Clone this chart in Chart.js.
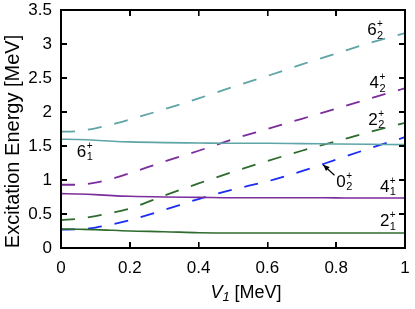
<!DOCTYPE html>
<html>
<head>
<meta charset="utf-8">
<script src="https://cdn.jsdelivr.net/npm/chart.js@4/dist/chart.umd.min.js"></script>
<style>
html,body{margin:0;padding:0;background:#fff;}
#wrap{width:415px;height:309px;position:relative;}
#wrap canvas{position:absolute;left:0;top:0;}
.ov{position:absolute;pointer-events:none;background:#000;}
.box{position:absolute;pointer-events:none;box-sizing:border-box;border:2px solid #000;}
</style>
</head>
<body>
<div id="wrap"><canvas id="c" width="415" height="309"></canvas></div>
<script>
// ---- data ----
const v1 = [0, 0.05, 0.1, 0.15, 0.2, 0.3, 0.4, 0.5, 0.6, 0.7, 0.8, 0.9, 1.0];
const e2_1 = [0.28, 0.275, 0.27, 0.26, 0.25, 0.24, 0.225, 0.22, 0.22, 0.22, 0.22, 0.22, 0.22];
const e4_1 = [0.80, 0.795, 0.785, 0.77, 0.76, 0.75, 0.745, 0.74, 0.74, 0.74, 0.737, 0.735, 0.735];
const e6_1 = [1.60, 1.595, 1.585, 1.57, 1.56, 1.55, 1.545, 1.54, 1.54, 1.535, 1.53, 1.525, 1.52];
const e0_2 = [0.27, 0.275, 0.30, 0.35, 0.41, 0.56, 0.72, 0.86, 0.98, 1.13, 1.30, 1.47, 1.63];
const e2_2 = [0.41, 0.43, 0.47, 0.52, 0.58, 0.77, 0.95, 1.12, 1.28, 1.43, 1.57, 1.71, 1.84];
const e4_2 = [0.93, 0.93, 0.96, 1.02, 1.10, 1.27, 1.43, 1.60, 1.75, 1.90, 2.05, 2.20, 2.35];
const e6_2 = [1.71, 1.72, 1.76, 1.82, 1.89, 2.04, 2.20, 2.37, 2.53, 2.70, 2.86, 3.02, 3.16];
const xTickLabels = ['0', '0.2', '0.4', '0.6', '0.8', '1'];
const yTickLabels = ['0', '0.5', '1', '1.5', '2', '2.5', '3', '3.5'];
const stateLabels = [
  {n:'6', sub:'2', x:0.890, y:3.13},
  {n:'4', sub:'2', x:0.897, y:2.35},
  {n:'2', sub:'2', x:0.893, y:1.81},
  {n:'6', sub:'1', x:0.046, y:1.34},
  {n:'0', sub:'2', x:0.800, y:0.90},
  {n:'4', sub:'1', x:0.927, y:0.83},
  {n:'2', sub:'1', x:0.927, y:0.32}
];
const arrowFrom = {x:0.795, y:1.07};
const arrowTo = {x:0.762, y:1.225};

const TEAL = '#5fa4a6', PURPLE = '#7b2d9e', GREEN = '#2e6b2e', BLUE = '#1a2cf5';
const FONT = '"Liberation Sans", Arial, sans-serif';

function pts(arr){ return arr.map((y,i)=>({x:v1[i], y:y})); }
function ds(arr, color, dashed){
  return {data: pts(arr), borderColor: color, borderWidth: dashed ? 1.8 : 1.6,
    borderDash: dashed ? [14, 13] : [], pointRadius: 0, fill: false,
    cubicInterpolationMode: 'monotone', xAxisID: 'x', yAxisID: 'y'};
}

const annot = {
  id: 'annot',
  afterDraw(chart){
    const ctx = chart.ctx, x = chart.scales.x, y = chart.scales.y;
    ctx.save();
    ctx.fillStyle = '#000';
    ctx.strokeStyle = '#000';

    ctx.textBaseline = 'alphabetic';
    ctx.textAlign = 'left';
    stateLabels.forEach(l => {
      const px = x.getPixelForValue(l.x), py = y.getPixelForValue(l.y);
      ctx.font = '17px ' + FONT;
      ctx.fillText(l.n, px, py);
      const w = ctx.measureText(l.n).width;
      ctx.font = '10px ' + FONT;
      ctx.fillText('+', px + w + 0.5, py - 8);
      ctx.font = '11px ' + FONT;
      ctx.fillText(l.sub, px + w + 0.5, py + 3.5);
    });

    const ax0 = x.getPixelForValue(arrowFrom.x), ay0 = y.getPixelForValue(arrowFrom.y);
    const ax1 = x.getPixelForValue(arrowTo.x), ay1 = y.getPixelForValue(arrowTo.y);
    ctx.lineWidth = 1.2;
    ctx.beginPath(); ctx.moveTo(ax0, ay0); ctx.lineTo(ax1, ay1); ctx.stroke();
    const ang = Math.atan2(ay1 - ay0, ax1 - ax0);
    const hl = 7, hw = 0.4;
    ctx.beginPath();
    ctx.moveTo(ax1, ay1);
    ctx.lineTo(ax1 - hl*Math.cos(ang - hw), ay1 - hl*Math.sin(ang - hw));
    ctx.lineTo(ax1 - hl*Math.cos(ang + hw), ay1 - hl*Math.sin(ang + hw));
    ctx.closePath(); ctx.fill();

    ctx.font = 'italic 18px ' + FONT;
    const wV = ctx.measureText('V').width;
    ctx.font = 'italic 13px ' + FONT;
    const w1 = ctx.measureText('1').width;
    ctx.font = '18px ' + FONT;
    const wR = ctx.measureText(' [MeV]').width;
    const total = wV + w1 + wR;
    let sx = 246 - total/2; const by = 298;
    ctx.font = 'italic 18px ' + FONT; ctx.fillText('V', sx, by); sx += wV;
    ctx.font = 'italic 13px ' + FONT; ctx.fillText('1', sx, by + 3); sx += w1;
    ctx.font = '18px ' + FONT; ctx.fillText(' [MeV]', sx, by);

    ctx.translate(19, 141.5);
    ctx.rotate(-Math.PI/2);
    ctx.textAlign = 'center';
    ctx.font = '20px ' + FONT;
    ctx.fillText('Excitation Energy [MeV]', 0, 0);
    ctx.restore();
  }
};

const gridOpts = {display: true, drawOnChartArea: false, drawTicks: true, tickLength: -6,
                  color: '#000', lineWidth: 1.6};
const borderOpts = {display: true, color: '#000', width: 2};

const chart = new Chart(document.getElementById('c'), {
  type: 'line',
  data: {
    datasets: [
      ds(e2_1, GREEN, false),
      ds(e4_1, PURPLE, false),
      ds(e6_1, TEAL, false),
      ds(e0_2, BLUE, true),
      ds(e2_2, GREEN, true),
      ds(e4_2, PURPLE, true),
      ds(e6_2, TEAL, true)
    ]
  },
  options: {
    responsive: false,
    animation: false,
    devicePixelRatio: 1,
    layout: {padding: {top: 10, right: 10, left: 0, bottom: 0}},
    plugins: {legend: {display: false}, tooltip: {enabled: false}},
    scales: {
      x: {
        type: 'linear', position: 'bottom', min: 0, max: 1,
        afterFit(s){ s.height = 61; s.paddingLeft = 0; s.paddingRight = 0; },
        afterBuildTicks(s){ s.ticks = xTickLabels.map(t => ({value: parseFloat(t)})); },
        ticks: {callback: (v, i) => xTickLabels[i], color: '#000', padding: 16,
                font: {family: FONT, size: 17}, maxRotation: 0, autoSkip: false},
        grid: gridOpts,
        border: borderOpts
      },
      y: {
        type: 'linear', position: 'left', min: 0, max: 3.5,
        afterFit(s){ s.width = 61; s.paddingTop = 0; s.paddingBottom = 0; },
        afterBuildTicks(s){ s.ticks = yTickLabels.map(t => ({value: parseFloat(t)})); },
        ticks: {callback: (v, i) => yTickLabels[i], color: '#000', padding: 15,
                font: {family: FONT, size: 17}, autoSkip: false},
        grid: gridOpts,
        border: borderOpts
      },
      x2: {
        type: 'linear', position: 'top', min: 0, max: 1,
        afterFit(s){ s.height = 0; s.paddingLeft = 0; s.paddingRight = 0; },
        afterBuildTicks(s){ s.ticks = xTickLabels.map(t => ({value: parseFloat(t)})); },
        ticks: {display: false},
        grid: gridOpts,
        border: borderOpts
      },
      y2: {
        type: 'linear', position: 'right', min: 0, max: 3.5,
        afterFit(s){ s.width = 0; s.paddingTop = 0; s.paddingBottom = 0; },
        afterBuildTicks(s){ s.ticks = yTickLabels.map(t => ({value: parseFloat(t)})); },
        ticks: {display: false},
        grid: gridOpts,
        border: borderOpts
      }
    }
  },
  plugins: [annot]
});

// Frame and inward tick marks as an overlay aligned to the chart's own scales
(function addFrame(){
  const wrap = document.getElementById('wrap');
  const a = chart.chartArea, sx = chart.scales.x, sy = chart.scales.y;
  const box = document.createElement('div');
  box.className = 'box';
  box.style.left = (a.left - 1) + 'px';
  box.style.top = (a.top - 1) + 'px';
  box.style.width = (a.right - a.left + 2) + 'px';
  box.style.height = (a.bottom - a.top + 2) + 'px';
  wrap.appendChild(box);
  const tl = 6, tw = 1.5;
  function mark(l, t, w, h){
    const d = document.createElement('div');
    d.className = 'ov';
    d.style.left = l + 'px'; d.style.top = t + 'px';
    d.style.width = w + 'px'; d.style.height = h + 'px';
    wrap.appendChild(d);
  }
  xTickLabels.forEach(t => {
    const px = sx.getPixelForValue(parseFloat(t));
    mark(px - tw/2, a.bottom - tl, tw, tl);
    mark(px - tw/2, a.top, tw, tl);
  });
  yTickLabels.forEach(t => {
    const py = sy.getPixelForValue(parseFloat(t));
    mark(a.left, py - tw/2, tl, tw);
    mark(a.right - tl, py - tw/2, tl, tw);
  });
})();
</script>
</body>
</html>
